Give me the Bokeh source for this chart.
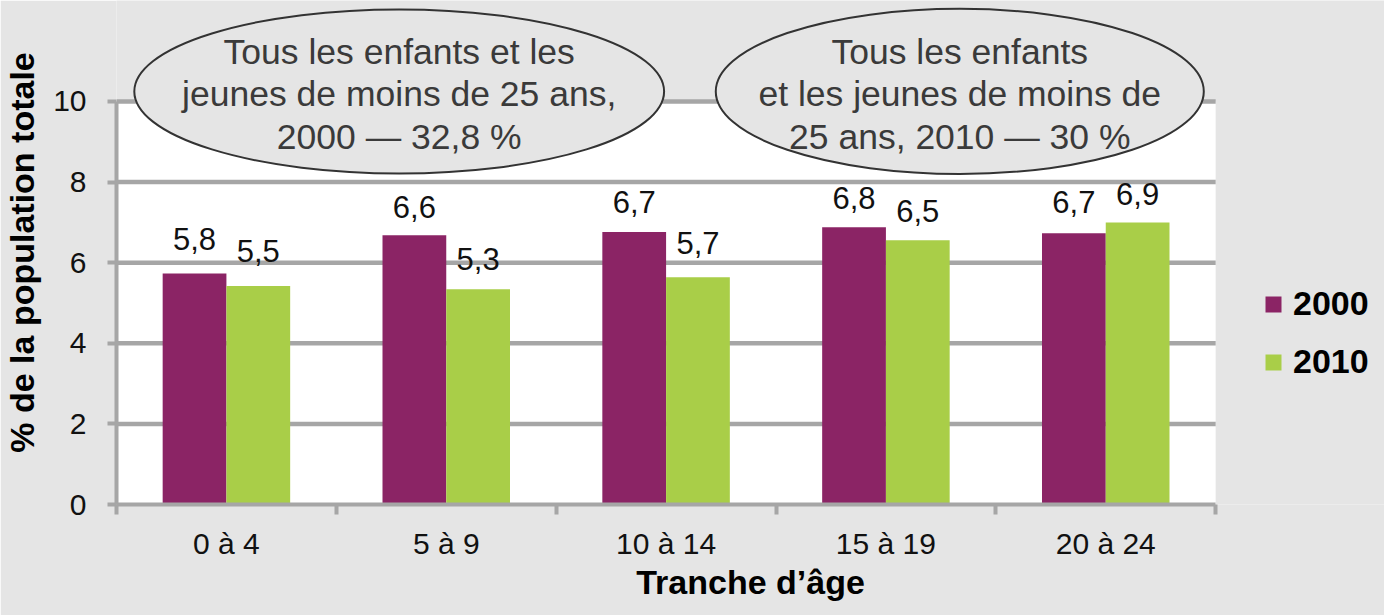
from bokeh.plotting import figure
from bokeh.models import Range1d, FixedTicker, Legend, LegendItem, BoxAnnotation
from bokeh.core.properties import value
from bokeh.embed import file_html
from bokeh.resources import INLINE

# ---- data ----
categories = ["0 à 4", "5 à 9", "10 à 14", "15 à 19", "20 à 24"]
values_2000 = [5.73, 6.68, 6.76, 6.88, 6.73]      # bar heights as drawn
values_2010 = [5.42, 5.34, 5.64, 6.56, 7.00]
labels_2000 = [5.8, 6.6, 6.7, 6.8, 6.7]           # printed values
labels_2010 = [5.5, 5.3, 5.7, 6.5, 6.9]
series_names = ["2000", "2010"]
y_ticks = [0, 2, 4, 6, 8, 10]
note_lines_2000 = ["Tous les enfants et les", "jeunes de moins de 25 ans,", "2000 — 32,8 %"]
note_lines_2010 = ["Tous les enfants", "et les jeunes de moins de", "25 ans, 2010 — 30 %"]

# ---- styling / layout ----
BG = "#e5e5e5"
GRID = "#a6a6a6"
PURPLE = "#8b2465"
GREEN = "#a9ce48"
FONT = "Liberation Sans"
BAR_W = 0.29

xs = list(range(len(categories)))
x_2000 = [x - BAR_W / 2 for x in xs]
x_2010 = [x + BAR_W / 2 for x in xs]


def fmt(v):
    return f"{v:.1f}".replace(".", ",")


p = figure(width=1384, height=615, output_backend="svg", toolbar_location=None,
           x_range=Range1d(-0.5, 5.268), y_range=Range1d(0, 12.506),
           min_border_left=115, min_border_right=0, min_border_top=0, min_border_bottom=111)
p.background_fill_color = BG
p.border_fill_color = BG
p.outline_line_color = None
p.xgrid.visible = False
p.ygrid.visible = False

# white plot area
p.add_layout(BoxAnnotation(left=-0.5, right=4.5, bottom=0, top=10, fill_color="white",
                           fill_alpha=1, line_color=None, level="underlay"))

# horizontal gridlines (from tick list)
grid_y = [t for t in y_ticks if t > 0]
p.segment(x0=[-0.5] * len(grid_y), x1=[4.5] * len(grid_y), y0=grid_y, y1=grid_y,
          line_color=GRID, line_width=4.5)

# bars
r1 = p.vbar(x=x_2000, top=values_2000, width=BAR_W, fill_color=PURPLE, line_color=None)
r2 = p.vbar(x=x_2010, top=values_2010, width=BAR_W, fill_color=GREEN, line_color=None)

# value labels
for xx, vv in ((x_2000, labels_2000), (x_2010, labels_2010)):
    p.text(x=xx, y=vv, text=[fmt(v) for v in vv], text_align="center",
           text_baseline="alphabetic", y_offset=-32, text_font=value(FONT),
           text_font_size="31px", text_color="#111111")

# callout ellipses
ell_x = [0.786, 3.336]
ell_y = [10.25, 10.25]
ell_w = [2.41, 2.22]
ell_h = [4.07, 4.10]
p.ellipse(x=ell_x, y=ell_y, width=ell_w, height=ell_h, fill_color=BG, line_color="#333333",
          line_width=2)
line_y = [11.24, 10.18, 9.12]
for cx, lines in zip(ell_x, (note_lines_2000, note_lines_2010)):
    p.text(x=[cx] * len(lines), y=line_y, text=lines, text_align="center",
           text_baseline="middle", text_font=value(FONT), text_font_size="35.5px",
           text_color="#3a3a3a")

# y axis
ya = p.yaxis[0]
ya.ticker = FixedTicker(ticks=y_ticks)
ya.bounds = (0, 10)
ya.axis_line_color = GRID
ya.axis_line_width = 4
ya.major_tick_line_color = GRID
ya.major_tick_line_width = 4
ya.major_tick_out = 9
ya.major_tick_in = 0
ya.minor_tick_line_color = None
ya.major_label_standoff = 21
ya.major_label_text_font = FONT
ya.major_label_text_font_size = "30px"
ya.major_label_text_color = "#111111"
ya.axis_label = "% de la population totale"
ya.axis_label_text_font = FONT
ya.axis_label_text_font_size = "34px"
ya.axis_label_text_font_style = "bold"
ya.axis_label_text_color = "#000000"
ya.axis_label_standoff = 9

# x axis
xa = p.xaxis[0]
xa.ticker = FixedTicker(ticks=xs, minor_ticks=[x - 0.5 for x in xs] + [xs[-1] + 0.5])
xa.bounds = (-0.5, 4.5)
xa.major_label_overrides = {i: c for i, c in zip(xs, categories)}
xa.axis_line_color = GRID
xa.axis_line_width = 4
xa.major_tick_line_color = None
xa.major_tick_out = 0
xa.major_tick_in = 0
xa.minor_tick_line_color = GRID
xa.minor_tick_line_width = 4
xa.minor_tick_out = 10
xa.minor_tick_in = 0
xa.major_label_standoff = 12
xa.major_label_text_font = FONT
xa.major_label_text_font_size = "30px"
xa.major_label_text_color = "#111111"
xa.axis_label = "Tranche d’âge"
xa.axis_label_text_font = FONT
xa.axis_label_text_font_size = "34px"
xa.axis_label_text_font_style = "bold"
xa.axis_label_text_color = "#000000"
xa.axis_label_standoff = 0

# legend
legend = Legend(items=[LegendItem(label=series_names[0], renderers=[r1]),
                       LegendItem(label=series_names[1], renderers=[r2])],
                location=(1147, 123), orientation="vertical",
                glyph_width=20, glyph_height=20, label_standoff=10, spacing=19,
                padding=0, margin=0, border_line_color=None, background_fill_alpha=0,
                label_text_font=FONT, label_text_font_size="34px",
                label_text_font_style="bold", label_text_color="#000000")
p.add_layout(legend)

html = file_html(p, INLINE)
html = html.replace("<body>", '<body style="background-color:#e5e5e5;">', 1)
open("out.html", "w").write(html)
